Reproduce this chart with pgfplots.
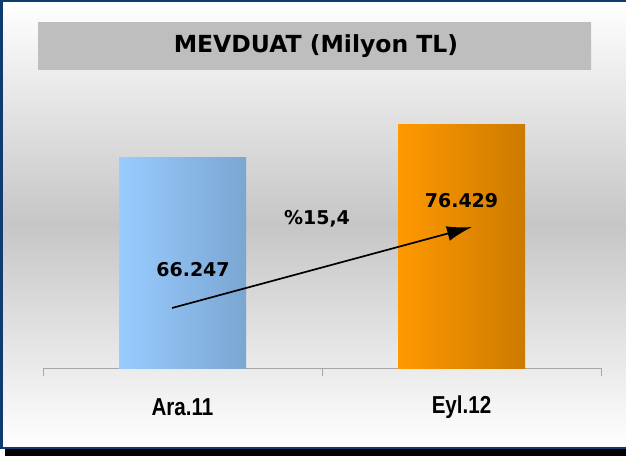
\documentclass[border=0pt]{standalone}
\usepackage{pgfplots}
\pgfplotsset{compat=1.18}
\usepackage{fontspec}
\setmainfont{DejaVu Sans}
\newfontfamily\arialfont{Liberation Sans}
\usetikzlibrary{arrows.meta}
\definecolor{navy}{HTML}{0E3C70}
\definecolor{bggray}{HTML}{C6C6C6}
\definecolor{tedge}{HTML}{BEBEBE}
\definecolor{tmid}{HTML}{DCDCDC}
\definecolor{blueL}{HTML}{99CCFF}
\definecolor{blueR}{HTML}{7BA6D3}
\definecolor{orL}{HTML}{FF9900}
\definecolor{orR}{HTML}{CC7A00}
\newcommand{\catlabel}[1]{\scalebox{0.84}[1]{\arialfont\bfseries\fontsize{24.5}{28}\selectfont #1}}
\begin{document}
\begin{tikzpicture}[x=1pt,y=1pt]
\useasboundingbox (0,0) rectangle (626,456);
\clip (0,0) rectangle (626,456);
% frame, shadow and background
\fill[white] (0,0) rectangle (626,456);
\fill[black] (5,0) rectangle (640,8);
\shade[top color=white, bottom color=bggray] (2,232) rectangle (640,454);
\shade[top color=bggray, bottom color=white] (2,8) rectangle (640,232);
\draw[navy, line width=2.5pt] (1.5,8) rectangle (640,454.8);
% title box
\shade[top color=tedge, middle color=tmid, bottom color=tedge] (38,386) rectangle (591,433);
\node[font=\bfseries\fontsize{23.5}{28}\selectfont] at (316,409.5) {MEVDUAT (Milyon TL)};

\begin{axis}[
    at={(43pt,88pt)}, anchor=south west,
    scale only axis,
    width=558pt, height=254.8pt,
    xmin=-0.5, xmax=1.5,
    ymin=0, ymax=80000,
    enlargelimits=false,
    clip=false,
    axis x line*=bottom,
    axis y line=none,
    xtick={-0.5,0.5,1.5},
    xticklabels={},
    tick align=outside,
    major tick length=8pt,
    x axis line style={gray!70, line width=0.9pt},
    xtick style={gray!70, line width=0.9pt},
]
\addplot[ybar, bar width=127pt, bar shift=0pt, draw=none, left color=blueL, right color=blueR] coordinates {(0,66247)};
\addplot[ybar, bar width=127pt, bar shift=0pt, draw=none, left color=orL, right color=orR] coordinates {(1,76429)};

\node[font=\bfseries\fontsize{19}{22}\selectfont] at (axis cs:0.0376,30772) {66.247};
\node[font=\bfseries\fontsize{19}{22}\selectfont] at (axis cs:1.0,52438) {76.429};
\node[font=\bfseries\fontsize{19}{22}\selectfont] at (axis cs:0.482,46786) {\%15,4};
\draw[-{Latex[length=25pt,width=15pt]}, line width=1.7pt] (axis cs:-0.0376,18840) -- (axis cs:1.0376,44274);

\node at (axis cs:0,-12246) {\catlabel{Ara.11}};
\node at (axis cs:1,-12246) {\catlabel{Eyl.12}};
\end{axis}
\end{tikzpicture}
\end{document}
